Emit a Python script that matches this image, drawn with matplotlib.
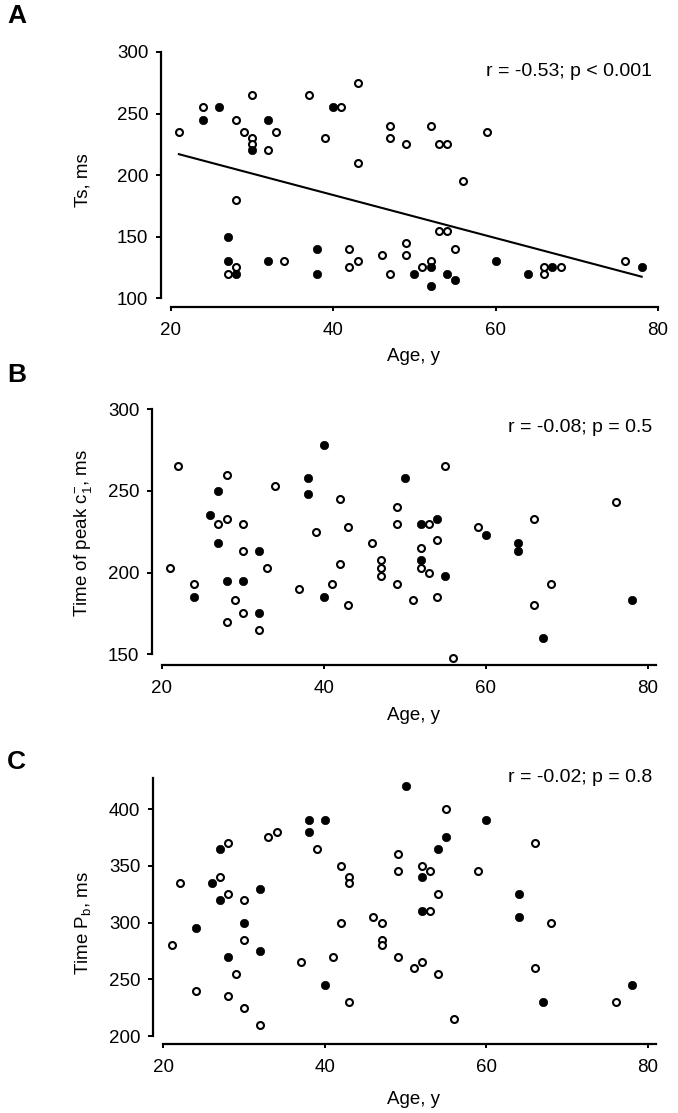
import matplotlib
matplotlib.use("Agg")
import matplotlib.pyplot as plt
import numpy as np

plt.rcParams['font.family'] = ['Liberation Sans', 'DejaVu Sans']

# panel A: Ts vs age
a_open_age = [21, 24, 28, 30, 29, 30, 30, 33, 32, 37, 41, 43, 39, 43, 47, 47, 49, 52, 53, 54, 59,
              56, 28, 28, 27, 34, 42, 42, 43, 46, 49, 49, 47, 51, 52, 53, 54, 55, 66, 66, 68, 76]
a_open_ts = [235, 255, 245, 265, 235, 230, 225, 235, 220, 265, 255, 275, 230, 210, 240, 230, 225,
             240, 225, 225, 235, 195, 180, 125, 120, 130, 140, 125, 130, 135, 145, 135, 120, 125,
             130, 155, 155, 140, 125, 120, 125, 130]
a_fill_age = [26, 24, 30, 32, 40, 27, 27, 28, 32, 38, 38, 50, 52, 52, 54, 55, 60, 64, 67, 78]
a_fill_ts = [255, 245, 220, 245, 255, 150, 130, 120, 130, 140, 120, 120, 125, 110, 120, 115, 130,
             120, 125, 125]
a_fit_age = [21, 78]
a_fit_ts = [217, 117.5]

# panel B: time of peak c-1 vs age
b_open_age = [22, 21, 24, 28, 27, 28, 30, 30, 33, 29, 28, 30, 32, 34, 39, 37, 41, 42, 42, 43, 43,
              46, 47, 47, 47, 49, 49, 49, 51, 53, 52, 52, 53, 54, 55, 54, 56, 59, 66, 66, 68, 76]
b_open_val = [265, 203, 193, 260, 230, 233, 230, 213, 203, 183, 170, 175, 165, 253, 225, 190, 193,
              245, 205, 228, 180, 218, 208, 203, 198, 240, 230, 193, 183, 230, 215, 203, 200, 220,
              265, 185, 148, 228, 233, 180, 193, 243]
b_fill_age = [24, 27, 26, 27, 32, 28, 30, 32, 38, 38, 40, 40, 50, 52, 54, 52, 55, 60, 64, 64, 67, 78]
b_fill_val = [185, 250, 235, 218, 213, 195, 195, 175, 258, 248, 278, 185, 258, 230, 233, 208, 198,
              223, 218, 213, 160, 183]

# panel C: time Pb vs age
c_open_age = [22, 21, 24, 27, 28, 28, 30, 30, 29, 28, 30, 32, 33, 34, 39, 37, 41, 42, 43, 43, 42,
              43, 46, 47, 47, 47, 49, 49, 49, 51, 52, 52, 53, 53, 55, 54, 54, 56, 59, 66, 66, 68, 76]
c_open_val = [335, 280, 240, 340, 370, 325, 320, 285, 255, 235, 225, 210, 375, 380, 365, 265, 270,
              350, 340, 335, 300, 230, 305, 300, 285, 280, 360, 345, 270, 260, 265, 350, 345, 310,
              400, 325, 255, 215, 345, 370, 260, 300, 230]
c_fill_age = [24, 26, 27, 27, 32, 30, 28, 32, 38, 40, 38, 40, 50, 52, 52, 54, 55, 60, 64, 64, 67, 78]
c_fill_val = [295, 335, 365, 320, 330, 300, 270, 275, 390, 390, 380, 245, 420, 340, 310, 365, 375,
              390, 325, 305, 230, 245]

W, H = 678, 1113
fig = plt.figure(figsize=(W / 100, H / 100), dpi=100)


def make_axes(left, right, top, bottom):
    return fig.add_axes([left / W, 1 - bottom / H, (right - left) / W, (bottom - top) / H])


def style(ax, xlim, ylim, xb, yb, yticks, ylabel, ylab_y, xlab_y):
    ax.set_xlim(*xlim)
    ax.set_ylim(*ylim)
    for s in ['top', 'right']:
        ax.spines[s].set_visible(False)
    ax.spines['left'].set_linewidth(1.6)
    ax.spines['bottom'].set_linewidth(1.6)
    ax.spines['bottom'].set_bounds(*xb)
    ax.spines['left'].set_bounds(*yb)
    ax.set_xticks([20, 40, 60, 80])
    ax.set_yticks(yticks)
    ax.tick_params(axis='both', labelsize=13.5, width=1.4, direction='out')
    ax.tick_params(axis='y', length=3.6, pad=5.5)
    ax.tick_params(axis='x', length=3, pad=8)
    ax.set_ylabel(ylabel, fontsize=13.5, va='center')
    ax.yaxis.set_label_coords(83 / W, 1 - ylab_y / H, transform=fig.transFigure)
    ax.set_xlabel('Age, y', fontsize=13.5, va='center')
    ax.xaxis.set_label_coords(414 / W, 1 - xlab_y / H, transform=fig.transFigure)


def scatter(ax, oa, ov, fa, fv):
    ax.plot(oa, ov, 'o', ms=5, mfc='white', mec='black', mew=1.5, ls='none', zorder=3)
    ax.plot(fa, fv, 'o', ms=6, mfc='black', mec='black', mew=0.5, ls='none', zorder=3)


# A
axA = make_axes(161, 662, 50, 307)
scatter(axA, a_open_age, a_open_ts, a_fill_age, a_fill_ts)
axA.plot(a_fit_age, a_fit_ts, color='black', lw=1.5, zorder=2)
style(axA, (18.8, 80.5), (92.9, 301.6), (20, 80), (100, 300), [100, 150, 200, 250, 300],
      'Ts, ms', 180, 357)

# B
axB = make_axes(152, 652, 407, 665)
scatter(axB, b_open_age, b_open_val, b_fill_age, b_fill_val)
style(axB, (18.8, 80.5), (143.45, 301.4), (20, 81), (150, 300), [150, 200, 250, 300],
      r'Time of peak $\mathregular{c^{-}_{1}}$, ms', 533, 715)

# C
axC = make_axes(153, 652, 775, 1044)
scatter(axC, c_open_age, c_open_val, c_fill_age, c_fill_val)
style(axC, (18.7, 80.5), (193, 430), (20, 81), (200, 427), [200, 250, 300, 350, 400],
      r'Time $\mathregular{P_b}$, ms', 923, 1100)

fig.text(652 / W, 1 - 72 / H, 'r = -0.53; p < 0.001', ha='right', va='center', fontsize=14)
fig.text(652 / W, 1 - 427 / H, 'r = -0.08; p = 0.5', ha='right', va='center', fontsize=14)
fig.text(652 / W, 1 - 778 / H, 'r = -0.02; p = 0.8', ha='right', va='center', fontsize=14)

for lab, y in [('A', 16), ('B', 375), ('C', 762)]:
    fig.text(7 / W, 1 - y / H, lab, ha='left', va='center', fontsize=19, fontweight='bold')

fig.savefig('out.png', dpi=100)
